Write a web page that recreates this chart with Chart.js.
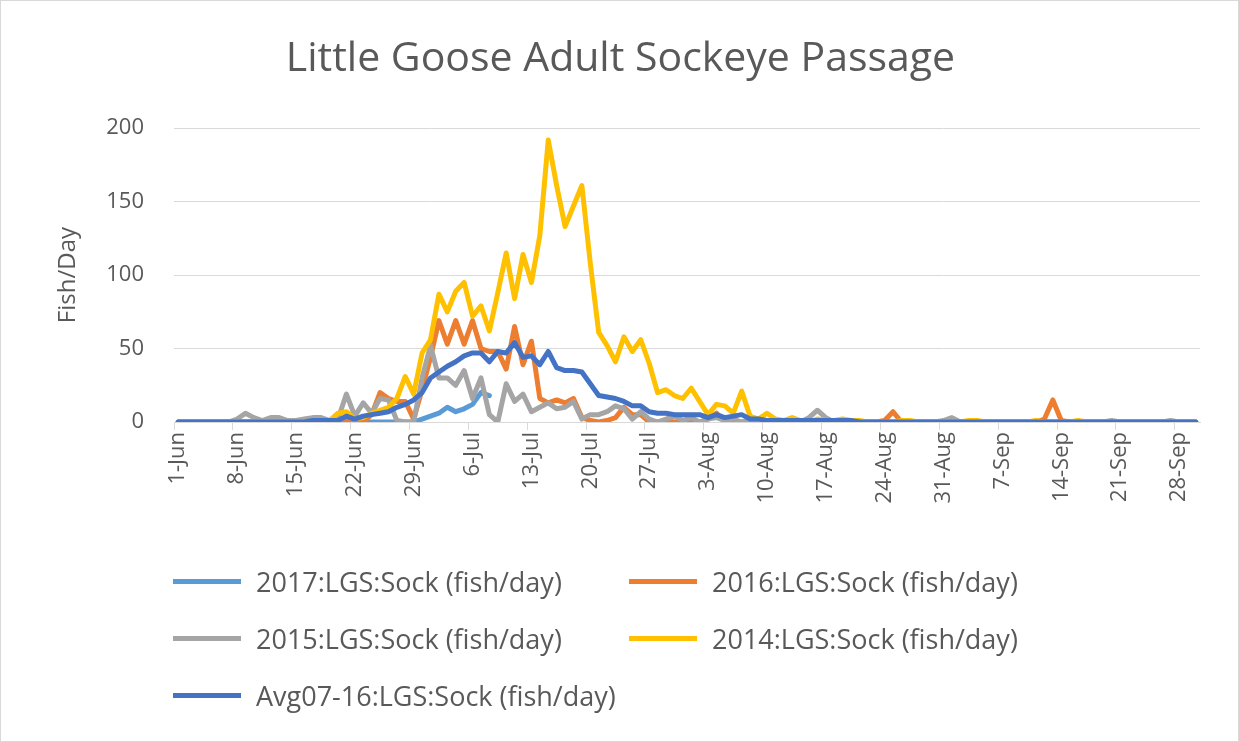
<!DOCTYPE html>
<html>
<head>
<meta charset="utf-8">
<title>Little Goose Adult Sockeye Passage</title>
<script src="https://cdn.jsdelivr.net/npm/chart.js@4.4.1/dist/chart.umd.min.js"></script>
<style>
  html, body { margin: 0; padding: 0; background: #fff; }
  #wrap { position: relative; width: 1237px; height: 740px; border: 1px solid #d9d9d9; overflow: hidden; }
  #legend { position: absolute; left: 0; top: 0; width: 100%; height: 100%; pointer-events: none;
            font-family: "Open Sans", sans-serif; font-size: 27px; color: #595959; }
  .item { position: absolute; display: flex; align-items: center; height: 36px; white-space: nowrap; }
  .swatch { width: 68px; height: 5px; margin-right: 15px; }
</style>
</head>
<body>
<div id="wrap">
  <canvas id="chart" width="1237" height="540"></canvas>
  <div id="legend"></div>
</div>
<script>
// month names and day counts for the category axis (1-Jun .. 30-Sep)
const months = ['Jun', 'Jul', 'Aug', 'Sep'];
const monthDays = [30, 31, 31, 30];

// fish/day, one value per day
const sock2017 = [
  0,0,0,0,0,0,0,0,0,0, 0,0,0,0,0,0,0,0,0,0, 0,0,0,0,0,0,0,0,0,2,   // Jun
  4,6,10,7,9,12,20,18                                               // Jul 1-8, series ends
];
const sock2016 = [
  0,0,0,0,0,0,0,0,0,0, 0,0,0,0,0,0,0,0,0,1, 2,1,0,5,20,16,14,14,2,22,
  44,69,53,69,53,69,50,48,48,36, 65,39,55,16,13,15,13,16,3,1, 0,1,3,10,5,5,0,0,1,0, 0,
  1,0,2,6,1,0,0,0,0,0, 0,0,0,0,0,0,0,0,0,0, 0,0,0,1,7,0,0,0,0,0, 0,
  0,0,0,0,0,0,0,0,0,0, 0,2,15,1,0,0,0,0,0,0, 0,0,0,0,0,0,0,0,0,0
];
const sock2015 = [
  0,0,0,0,0,0,0,2,6,3, 1,3,3,1,1,2,3,3,1,2, 19,4,13,6,16,15,1,0,0,30,
  52,30,30,25,35,16,30,5,0,26, 14,19,7,10,13,9,10,14,2,5, 5,7,11,9,2,7,2,0,2,4, 1,
  3,0,2,3,1,2,0,1,2,0, 1,0,1,0,3,8,3,0,0,0, 0,0,0,0,0,0,0,0,0,0, 1,
  3,0,0,0,0,0,0,0,0,0, 0,0,0,0,0,0,0,0,0,1, 0,0,0,0,0,0,1,0,0,0
];
const sock2014 = [
  0,0,0,0,0,0,0,0,0,0, 0,0,0,0,0,0,0,0,1,6, 7,2,3,6,8,10,16,31,19,47,
  56,87,75,89,95,72,79,62,88,115, 84,114,95,127,192,161,133,147,161,108, 61,52,41,58,48,56,40,20,22,18, 16,
  23,14,5,12,11,6,21,4,2,6, 2,1,3,1,0,2,1,1,2,1, 1,0,0,0,0,1,1,0,0,0, 0,
  0,0,1,1,0,0,0,0,0,0, 1,0,0,0,0,1,0,0,0,0, 0,0,0,0,0,0,0,0,0,0
];
const sockAvg = [
  0,0,0,0,0,0,0,0,0,0, 0,0,0,0,0,0,1,1,1,1, 4,2,4,5,6,7,10,12,15,20,
  30,34,38,41,45,47,47,41,48,47, 54,44,45,39,48,37,35,35,34,26, 18,17,16,14,11,11,7,6,6,5, 5,
  5,5,3,5,3,4,5,2,2,1, 1,1,1,1,1,1,1,1,1,1, 0,0,0,0,0,0,0,0,0,0, 0,
  0,0,0,0,0,0,0,0,0,0, 0,0,0,0,0,0,0,0,0,0, 0,0,0,0,0,0,0,0,0,0
];

const seriesNames = [
  '2017:LGS:Sock (fish/day)', '2016:LGS:Sock (fish/day)', '2015:LGS:Sock (fish/day)',
  '2014:LGS:Sock (fish/day)', 'Avg07-16:LGS:Sock (fish/day)'
];
const seriesColors = ['#5B9BD5', '#ED7D31', '#A5A5A5', '#FFC000', '#4472C4'];
const seriesData = [sock2017, sock2016, sock2015, sock2014, sockAvg];

const FONT = '"Open Sans", sans-serif';
const TEXT = '#595959';
const GRID = '#d9d9d9';

// day labels like "1-Jun"
const dayLabels = [];
months.forEach((m, k) => {
  for (let d = 1; d <= monthDays[k]; d++) dayLabels.push(d + '-' + m);
});

const ctx = document.getElementById('chart').getContext('2d');
const chart = new Chart(ctx, {
  type: 'line',
  data: {
    labels: dayLabels,
    datasets: seriesData.map((vals, i) => ({
      label: seriesNames[i],
      data: vals,
      borderColor: seriesColors[i],
      backgroundColor: seriesColors[i],
      borderWidth: 5,
      pointRadius: 0,
      tension: 0,
      fill: false,
      borderJoinStyle: 'round',
      borderCapStyle: 'round',
      order: seriesData.length - i   // later series on top, like Excel
    }))
  },
  options: {
    responsive: false,
    animation: false,
    layout: { padding: { left: 40, right: 38, top: 0, bottom: 19 } },
    plugins: {
      legend: { display: false },
      tooltip: { enabled: false },
      title: {
        display: true,
        text: 'Little Goose Adult Sockeye Passage',
        color: TEXT,
        font: { family: FONT, size: 41, weight: 'normal' },
        padding: { top: 34, bottom: 44 }
      }
    },
    scales: {
      x: {
        offset: true,
        grid: {
          offset: true,
          drawOnChartArea: false,
          drawTicks: true,
          tickLength: 8,
          color: c => (c.index % 7 === 0 ? GRID : 'rgba(0,0,0,0)')
        },
        border: { color: GRID },
        ticks: {
          autoSkip: false,
          minRotation: 90,
          maxRotation: 90,
          padding: 2,
          color: TEXT,
          font: { family: FONT, size: 22 },
          callback: (v, i) => (i % 7 === 0 ? dayLabels[i] : '')
        },
        afterFit: s => { s.height = 100; }
      },
      y: {
        min: 0,
        max: 200,
        ticks: { stepSize: 50, padding: 30, color: TEXT, font: { family: FONT, size: 22 } },
        grid: { color: GRID, drawTicks: false },
        border: { display: false },
        title: {
          display: true,
          text: 'Fish/Day',
          color: TEXT,
          font: { family: FONT, size: 24 },
          padding: { top: 13, bottom: 0 }
        },
        afterFit: s => { s.width = 133; }
      }
    }
  }
});

// legend: two columns, like the Excel one
const legendPos = [[172, 580], [628, 580], [172, 637], [628, 637], [172, 694]];
const legend = document.getElementById('legend');
seriesNames.forEach((name, i) => {
  const item = document.createElement('div');
  item.className = 'item';
  item.style.left = legendPos[i][0] + 'px';
  item.style.top = (legendPos[i][1] - 18) + 'px';
  const sw = document.createElement('span');
  sw.className = 'swatch';
  sw.style.background = seriesColors[i];
  const tx = document.createElement('span');
  tx.textContent = name;
  item.appendChild(sw);
  item.appendChild(tx);
  legend.appendChild(item);
});
</script>
</body>
</html>
